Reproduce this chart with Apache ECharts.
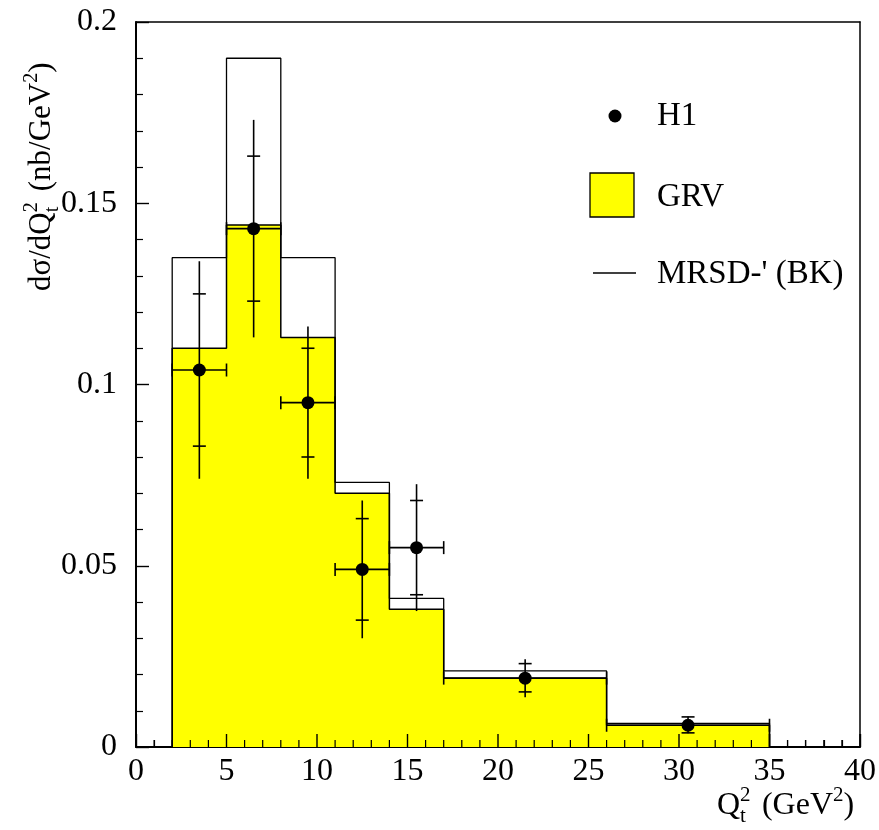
<!DOCTYPE html>
<html><head><meta charset="utf-8">
<script src="https://cdn.jsdelivr.net/npm/echarts@6/dist/echarts.min.js"></script>
<style>html,body{margin:0;padding:0;background:#fff}#c{width:879px;height:830px;background:#fff}</style>
</head><body><div id="c"></div>
<script>
// Bins of Q_t^2 (GeV^2)
const binLow  = [2, 5, 8, 11, 14, 17, 26];
const binHigh = [5, 8, 11, 14, 17, 26, 35];
// Model predictions (nb/GeV^2)
const grvValues  = [0.110, 0.144, 0.113, 0.070, 0.038, 0.019, 0.006];
const mrsdValues = [0.135, 0.190, 0.135, 0.073, 0.041, 0.021, 0.0065];
// H1 data
const h1X        = [3.5, 6.5, 9.5, 12.5, 15.5, 21.5, 30.5];
const h1Y        = [0.104, 0.143, 0.095, 0.049, 0.055, 0.019, 0.006];
const h1StatLow  = [0.083, 0.123, 0.080, 0.035, 0.042, 0.0152, 0.0039];
const h1StatHigh = [0.125, 0.163, 0.110, 0.063, 0.068, 0.023, 0.0083];
const h1TotLow   = [0.074, 0.113, 0.074, 0.030, 0.0375, 0.0137, 0.0038];
const h1TotHigh  = [0.134, 0.173, 0.116, 0.068, 0.0725, 0.0242, 0.0084];
// Tick labels
const xTickLabels = ['0','5','10','15','20','25','30','35','40'];
const yTickLabels = ['0','0.05','0.1','0.15','0.2'];
// x-axis tick positions (major every 5, minor every 1)
const xTickPositions = [];
for (let v = 0; v <= 40; v++) xTickPositions.push(v);

function stepData(vals){
  const n = vals.length;
  const d = [[binLow[0], 0]];
  for (let i = 0; i < n; i++) d.push([binLow[i], vals[i]]);
  d.push([binHigh[n-1], vals[n-1]]);
  d.push([binHigh[n-1], 0]);
  return d;
}
const h1Data = h1X.map((x,i)=>[x, h1Y[i], binLow[i], binHigh[i], h1StatLow[i], h1StatHigh[i], h1TotLow[i], h1TotHigh[i]]);

const FONT = "'Liberation Serif', 'Times New Roman', serif";
const chart = echarts.init(document.getElementById('c'), null, {renderer:'canvas'});
const rich = (fs, sfs) => ({
  m:{fontFamily:FONT, fontSize:fs, color:'#000', lineHeight:fs+10, verticalAlign:'middle'},
  sup0:{fontFamily:FONT, fontSize:sfs, color:'#000', verticalAlign:'top', lineHeight:sfs, width:0},
  sup:{fontFamily:FONT, fontSize:sfs, color:'#000', verticalAlign:'top', lineHeight:sfs},
  sub:{fontFamily:FONT, fontSize:sfs, color:'#000', verticalAlign:'bottom', lineHeight:sfs}
});
chart.setOption({
  animation:false,
  grid:{left:136, right:17, top:22, bottom:83},
  xAxis:[
    {type:'value', min:0, max:40, interval:5, position:'bottom',
     axisLine:{show:true, onZero:false, lineStyle:{color:'#000', width:2}},
     axisTick:{show:true, inside:true, length:13, lineStyle:{color:'#000', width:1.4}},
     minorTick:{show:true, splitNumber:5, length:7, lineStyle:{color:'#000', width:1.2}},
     splitLine:{show:false},
     axisLabel:{color:'#000', fontFamily:FONT, fontSize:32, margin:9, formatter:(v)=>xTickLabels[Math.round(v/5)]}},
    {type:'value', min:0, max:40, position:'top',
     axisLine:{show:true, onZero:false, lineStyle:{color:'#000', width:1.5}},
     axisTick:{show:false}, axisLabel:{show:false}, splitLine:{show:false}}
  ],
  yAxis:[
    {type:'value', min:0, max:0.2, interval:0.05, position:'left',
     axisLine:{show:true, onZero:false, lineStyle:{color:'#000', width:2}},
     axisTick:{show:true, inside:true, length:13, lineStyle:{color:'#000', width:1.4}},
     minorTick:{show:true, splitNumber:5, length:7, lineStyle:{color:'#000', width:1.2}},
     splitLine:{show:false},
     axisLabel:{color:'#000', fontFamily:FONT, fontSize:32, margin:19, formatter:(v)=>yTickLabels[Math.round(v/0.05)]}},
    {type:'value', min:0, max:0.2, position:'right',
     axisLine:{show:true, onZero:false, lineStyle:{color:'#000', width:1.5}},
     axisTick:{show:false}, axisLabel:{show:false}, splitLine:{show:false}}
  ],
  series:[
    {name:'GRV', type:'line', step:'end', data:stepData(grvValues), symbol:'none', z:1,
     lineStyle:{color:'#000', width:1.5}, areaStyle:{color:'#ffff00', opacity:1, origin:'start'}},
    {name:'MRSD', type:'line', step:'end', data:stepData(mrsdValues), symbol:'none', z:2,
     lineStyle:{color:'#000', width:1.3}},
    {name:'H1', type:'custom', z:3, data:h1Data,
     renderItem:function(params, api){
       const x=api.value(0), y=api.value(1);
       const p=api.coord([x,y]);
       const xl=api.coord([api.value(2),y])[0], xh=api.coord([api.value(3),y])[0];
       const sl=api.coord([x,api.value(4)])[1], sh=api.coord([x,api.value(5)])[1];
       const tl=api.coord([x,api.value(6)])[1], th=api.coord([x,api.value(7)])[1];
       const st={stroke:'#000', lineWidth:1.6};
       const c=6.5;
       const L=(x1,y1,x2,y2,w)=>({type:'line', shape:{x1,y1,x2,y2}, style:{stroke:'#000', lineWidth:w||1.6}});
       const children=[
         L(xl,p[1],xh,p[1]),
         L(xl,p[1]-c,xl,p[1]+c),
         L(xh,p[1]-c,xh,p[1]+c),
         L(p[0],th,p[0],tl),
         L(p[0]-c,sh,p[0]+c,sh),
         L(p[0]-c,sl,p[0]+c,sl),
         {type:'circle', shape:{cx:p[0], cy:p[1], r:6.5}, style:{fill:'#000'}}
       ];
       if (params.dataIndex === 0) {
         // x-axis inner ticks, placed through the x scale
         xTickPositions.forEach(v=>{
           const q=api.coord([v,0]);
           const major=(v%5===0);
           children.push(L(q[0], q[1], q[0], q[1]-(major?13:7), major?1.4:1.2));
         });
       }
       return {type:'group', children};
     }}
  ],
  graphic:[
    // legend
    {type:'circle', shape:{cx:615, cy:116, r:6.5}, style:{fill:'#000'}},
    {type:'text', x:657, y:116, style:{text:'H1', fontFamily:FONT, fontSize:33, fill:'#000', verticalAlign:'middle'}},
    {type:'rect', shape:{x:590, y:173, width:44, height:44}, style:{fill:'#ffff00', stroke:'#000', lineWidth:1.3}},
    {type:'text', x:657, y:197, style:{text:'GRV', fontFamily:FONT, fontSize:33, fill:'#000', verticalAlign:'middle'}},
    {type:'line', shape:{x1:593, y1:273, x2:636, y2:273}, style:{stroke:'#000', lineWidth:1.3}},
    {type:'text', x:657, y:274, style:{text:"MRSD-' (BK)", fontFamily:FONT, fontSize:33, fill:'#000', verticalAlign:'middle'}},
    // x axis title
    {type:'text', x:717, y:806, style:{
      text:'{m|Q}{sup0|2}{sub|t}{m|  (GeV}{sup|2}{m|)}', verticalAlign:'middle', align:'left',
      rich:rich(32, 21)}},
    // y axis title
    {type:'text', x:42, y:291, rotation:Math.PI/2, style:{
      text:'{m|dσ/dQ}{sup0|2}{sub|t}{m|  (nb/GeV}{sup|2}{m|)}', verticalAlign:'middle', align:'left',
      rich:rich(31, 20)}}
  ]
});
</script></body></html>
